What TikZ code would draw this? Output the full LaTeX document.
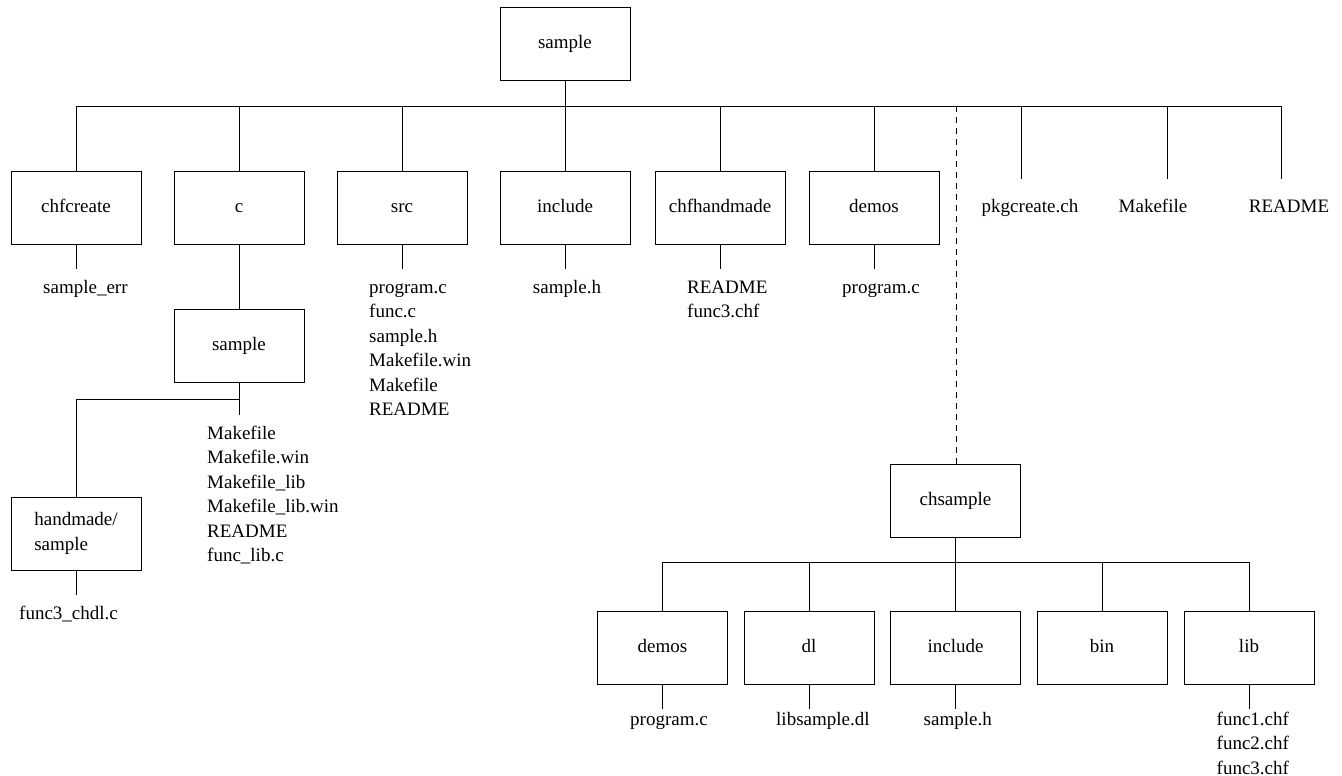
\documentclass[tikz,border=0pt]{standalone}
\usepackage{fontspec}
\setmainfont{Liberation Serif}
\begin{document}
\begin{tikzpicture}[x=1pt,y=-1pt,
  every node/.style={font=\fontsize{19}{24.5}\selectfont},
  dbox/.style={draw, line width=1pt, minimum width=130pt, minimum height=73pt, inner sep=0pt},
  sbox/.style={dbox, text height=13pt, text depth=4pt},
  conn/.style={line width=1pt},
  dconn/.style={line width=1pt, dash pattern=on 6pt off 5pt},
  flist/.style={anchor=base west, inner sep=0pt},
  ftext/.style={anchor=base, inner sep=0pt}]
\useasboundingbox (0,0) rectangle (1342,776);
\newcommand{\flst}[1]{\begin{tabular}[t]{@{}l@{}}#1\end{tabular}}
% boxes
\node[sbox] (root) at (565,44.5) {sample};
\node[sbox] (chfcreate) at (76,207.5) {chfcreate};
\node[sbox] (c) at (239,207.5) {c};
\node[sbox] (src) at (402,207.5) {src};
\node[sbox] (inc) at (565,207.5) {include};
\node[sbox] (chfh) at (720,207.5) {chfhandmade};
\node[sbox] (demos) at (874,207.5) {demos};
\node[sbox] (csample) at (239,346) {sample};
\node[dbox, align=left] (hand) at (76,533.5) {handmade/\\sample};
\node[sbox] (chs) at (955.5,501) {chsample};
\node[sbox] (bdemos) at (662.5,647.5) {demos};
\node[sbox] (bdl) at (809,647.5) {dl};
\node[sbox] (binc) at (955.5,647.5) {include};
\node[sbox] (bbin) at (1102,647.5) {bin};
\node[sbox] (blib) at (1249,647.5) {lib};
% file texts
\node[ftext] (pkg) at (1030,212) {pkgcreate.ch};
\node[ftext] (mk) at (1153,212) {Makefile};
\node[ftext] (rd) at (1289,212) {README};
\node[flist] (l1) at (43,293) {\flst{sample\_err}};
\node[flist] (l2) at (369,293) {\flst{program.c\\func.c\\sample.h\\Makefile.win\\Makefile\\README}};
\node[ftext] (l3) at (567,293) {sample.h};
\node[flist] (l4) at (687,293) {\flst{README\\func3.chf}};
\node[flist] (l5) at (842,293) {\flst{program.c}};
\node[flist] (l6) at (207,439) {\flst{Makefile\\Makefile.win\\Makefile\_lib\\Makefile\_lib.win\\README\\func\_lib.c}};
\node[flist] (l7) at (19,619) {\flst{func3\_chdl.c}};
\node[flist] (l8) at (630,725) {\flst{program.c}};
\node[flist] (l9) at (776,725) {\flst{libsample.dl}};
\node[flist] (l10) at (923.5,725) {\flst{sample.h}};
\node[flist] (l11) at (1216.5,725) {\flst{func1.chf\\func2.chf\\func3.chf}};
% coordinates
\coordinate (bus) at (0,106);
\coordinate (pkgE) at (1021,179);
\coordinate (mkE) at (1167.5,179);
\coordinate (rdE) at (1281,179);
\coordinate (dashx) at (956,106);
\coordinate (hbus) at (0,399);
\coordinate (bbus) at (0,562);
% top level connectors
\draw[conn] (root.south) -- (root.south |- bus);
\draw[conn] (chfcreate.north) -- (chfcreate.north |- bus) -- (rdE |- bus) -- (rdE);
\draw[conn] (c.north) -- (c.north |- bus);
\draw[conn] (src.north) -- (src.north |- bus);
\draw[conn] (inc.north) -- (inc.north |- bus);
\draw[conn] (chfh.north) -- (chfh.north |- bus);
\draw[conn] (demos.north) -- (demos.north |- bus);
\draw[conn] (pkgE) -- (pkgE |- bus);
\draw[conn] (mkE) -- (mkE |- bus);
\draw[dconn] (dashx) -- (dashx |- chs.north);
% stubs below boxes
\draw[conn] (chfcreate.south) -- ++(0,24);
\draw[conn] (src.south) -- ++(0,24);
\draw[conn] (inc.south) -- ++(0,24);
\draw[conn] (chfh.south) -- ++(0,24);
\draw[conn] (demos.south) -- ++(0,24);
\draw[conn] (c.south) -- (csample.north);
\draw[conn] (csample.south) -- ++(0,32);
\draw[conn] (csample.south |- hbus) -- (hand.north |- hbus) -- (hand.north);
\draw[conn] (hand.south) -- ++(0,24);
% chsample subtree
\draw[conn] (chs.south) -- (chs.south |- bbus);
\draw[conn] (bdemos.north) -- (bdemos.north |- bbus) -- (blib.north |- bbus) -- (blib.north);
\draw[conn] (bdl.north) -- (bdl.north |- bbus);
\draw[conn] (binc.north) -- (binc.north |- bbus);
\draw[conn] (bbin.north) -- (bbin.north |- bbus);
\draw[conn] (bdemos.south) -- ++(0,24);
\draw[conn] (bdl.south) -- ++(0,24);
\draw[conn] (binc.south) -- ++(0,24);
\draw[conn] (blib.south) -- ++(0,24);
\end{tikzpicture}
\end{document}
